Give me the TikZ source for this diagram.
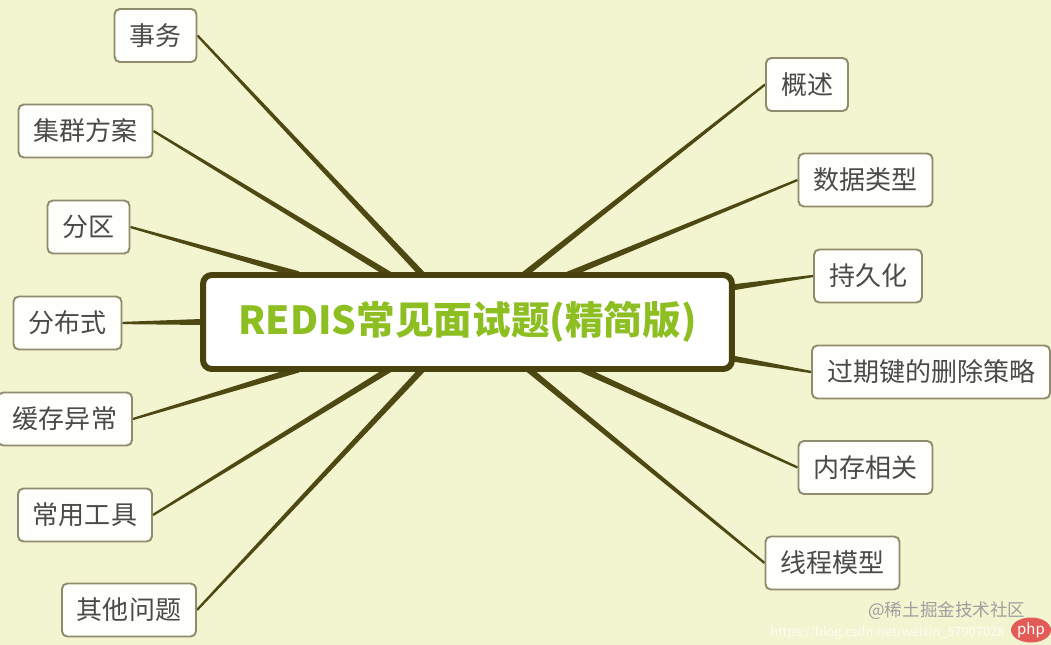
\documentclass[tikz,border=0pt]{standalone}
\usepackage{fontspec}
\setmainfont{Noto Sans CJK SC}
\newfontfamily\cjk{Noto Sans CJK SC}
\usetikzlibrary{calc,shapes.geometric}
\definecolor{bgc}{HTML}{F3F4D0}
\definecolor{boxline}{HTML}{8E8C6C}
\definecolor{boxfill}{HTML}{FEFEFA}
\definecolor{txtgray}{HTML}{4A4A4A}
\definecolor{connc}{HTML}{4E4813}
\definecolor{hubline}{HTML}{48420F}
\definecolor{hubtext}{HTML}{8DBE22}
\definecolor{logored}{HTML}{E35B57}
\pgfdeclarelayer{bglayer}
\pgfsetlayers{bglayer,main}
\newcommand\taperline[2]{%
  \path ($(#2)!-5pt!(#1)$) coordinate (tmpend);
  \fill[connc] ($(#1)!0.65pt!90:(tmpend)$) -- ($(tmpend)!1.8pt!-90:(#1)$)
    -- ($(tmpend)!1.8pt!90:(#1)$) -- ($(#1)!0.65pt!-90:(tmpend)$) -- cycle;}
\begin{document}
\begin{tikzpicture}[x=0.02cm,y=-0.02cm,
  leaf/.style={draw=boxline, line width=1.1pt, rounded corners=3pt, fill=boxfill,
    text=txtgray, minimum height=1.06cm, inner xsep=0.3cm, inner ysep=0pt,
    font=\cjk\fontsize{14.8}{17}\selectfont},
  hub/.style={draw=hubline, line width=3.4pt, rounded corners=5pt, fill=white,
    minimum width=10.58cm, minimum height=1.88cm, text=hubtext,
    font=\cjk\bfseries\fontsize{22}{26}\selectfont}]
\begin{pgfonlayer}{bglayer}
  \fill[bgc] (0,0) rectangle (1051,645);
\end{pgfonlayer}
\useasboundingbox (0,0) rectangle (1051,645);

% hub
\node[hub] (c) at (467.5,322) {REDIS常见面试题(精简版)};

% left leaves
\node[leaf] (shiwu) at (155.5,35.5) {事务};
\node[leaf] (jiqun) at (85.5,131) {集群方案};
\node[leaf] (fenqu) at (88.5,227) {分区};
\node[leaf] (fenbu) at (67.5,323) {分布式};
\node[leaf] (huancun) at (65,419) {缓存异常};
\node[leaf] (changyong) at (85,515) {常用工具};
\node[leaf] (qita) at (129,610) {其他问题};
% right leaves
\node[leaf] (gaishu) at (807,84.5) {概述};
\node[leaf] (shuju) at (865.5,180) {数据类型};
\node[leaf] (chijiu) at (868,276) {持久化};
\node[leaf] (guoqi) at (931,372) {过期键的删除策略};
\node[leaf] (neicun) at (865.5,467.5) {内存相关};
\node[leaf] (xiancheng) at (832.5,563) {线程模型};

% attachment points on the hub border
\coordinate (pShiwu) at ($(c.north west)!0.411!(c.north east)$);
\coordinate (pJiqun) at ($(c.north west)!0.346!(c.north east)$);
\coordinate (pFenqu) at ($(c.north west)!0.168!(c.north east)$);
\coordinate (pGaishu) at ($(c.north west)!0.612!(c.north east)$);
\coordinate (pShuju) at ($(c.north west)!0.700!(c.north east)$);
\coordinate (pHuancun) at ($(c.south west)!0.168!(c.south east)$);
\coordinate (pChang) at ($(c.south west)!0.346!(c.south east)$);
\coordinate (pQita) at ($(c.south west)!0.411!(c.south east)$);
\coordinate (pNeicun) at ($(c.south west)!0.725!(c.south east)$);
\coordinate (pXian) at ($(c.south west)!0.620!(c.south east)$);
\coordinate (pChijiu) at ($(c.north east)!0.15!(c.south east)$);
\coordinate (pGuoqi) at ($(c.north east)!0.87!(c.south east)$);

\begin{pgfonlayer}{bglayer}
  \taperline{shiwu.east}{pShiwu}
  \taperline{jiqun.east}{pJiqun}
  \taperline{fenqu.east}{pFenqu}
  \taperline{fenbu.east}{c.west}
  \taperline{huancun.east}{pHuancun}
  \taperline{changyong.east}{pChang}
  \taperline{qita.east}{pQita}
  \taperline{gaishu.west}{pGaishu}
  \taperline{shuju.west}{pShuju}
  \taperline{chijiu.west}{pChijiu}
  \taperline{guoqi.west}{pGuoqi}
  \taperline{neicun.west}{pNeicun}
  \taperline{xiancheng.west}{pXian}
\end{pgfonlayer}

% watermark
\node[text=white, opacity=0.8, font=\fontsize{7.3}{9}\selectfont, anchor=west, inner sep=0pt]
  (url) at (770,633) {https://blog.csdn.net/weixin\_57907028};
\node[text=gray!75, font=\cjk\fontsize{10}{12}\selectfont, anchor=west, inner sep=0pt]
  (wm) at (868,611) {@稀土掘金技术社区};
\node[ellipse, fill=logored, text=white, inner sep=0pt, minimum width=0.8cm,
  minimum height=0.5cm, font=\itshape\fontsize{8.5}{10}\selectfont]
  (logo) at (1031,630) {php};
\end{tikzpicture}
\end{document}
